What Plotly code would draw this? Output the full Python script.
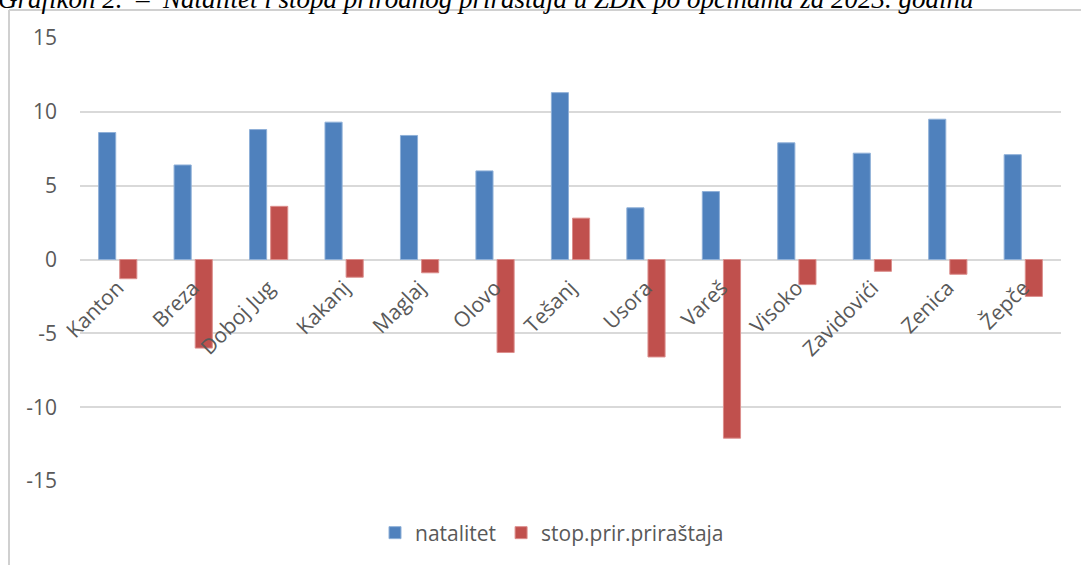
import plotly.graph_objects as go

# općine ZDK, 2023.
opcine = ["Kanton", "Breza", "Doboj Jug", "Kakanj", "Maglaj", "Olovo", "Tešanj",
          "Usora", "Vareš", "Visoko", "Zavidovići", "Zenica", "Žepče"]
natalitet = [8.6, 6.4, 8.8, 9.3, 8.4, 6.0, 11.3, 3.5, 4.6, 7.9, 7.2, 9.5, 7.1]
prirastaj = [-1.3, -6.0, 3.6, -1.2, -0.9, -6.3, 2.8, -6.6, -12.1, -1.7, -0.8, -1.0, -2.5]
y_ticks = [-15, -10, -5, 0, 5, 10, 15]
y_labels = ["-15", "-10", "-5", "0", "5", "10", "15"]

nb = "\u00a0"
naslov = ("Grafikon 2." + nb * 2 + "–" + nb * 2 +
          "Natalitet i stopa prirodnog priraštaja u ZDK po općinama za 2023. godinu")

W, H = 1081, 565
L, R, T, B = 80, 1061, 38, 481


def px(x):
    return (x - L) / (R - L)


def py(y):
    return (B - y) / (B - T)


txt = dict(family="Open Sans, sans-serif", size=21, color="#595959")

fig = go.Figure()
fig.add_trace(go.Bar(x=opcine, y=natalitet, name="natalitet",
                     marker=dict(color="#4f81bd", line=dict(color="#8fb0d8", width=1))))
fig.add_trace(go.Bar(x=opcine, y=prirastaj, name="stop.prir.priraštaja",
                     marker=dict(color="#c0504d", line=dict(color="#dc8f8d", width=1))))

frame = dict(color="#d0d0d0", width=2)

fig.update_layout(
    width=W, height=H,
    margin=dict(l=L, r=W - R, t=T, b=H - B),
    paper_bgcolor="white", plot_bgcolor="white",
    barmode="group", bargap=0.44, bargroupgap=0.19,
    font=txt,
    showlegend=True,
    legend=dict(orientation="h", x=px(552), xanchor="center", y=py(533), yanchor="middle",
                font=txt, itemwidth=30, traceorder="normal"),
    xaxis=dict(anchor="free", position=0.5, showline=False, showgrid=False,
               ticks="", tickangle=-45, tickfont=txt, ticklabelstandoff=11),
    yaxis=dict(range=[-15, 15], tickvals=y_ticks, ticktext=y_labels, showgrid=True,
               gridcolor="#d9d9d9", gridwidth=1.5, zeroline=True,
               zerolinecolor="#d9d9d9", zerolinewidth=1.5, showline=False,
               ticks="", tickfont=txt, ticklabelstandoff=22),
    # outer chart frame: only its left and top edges are inside the picture
    shapes=[dict(type="line", xref="paper", yref="paper",
                 x0=px(9), x1=px(1081), y0=py(10), y1=py(10), line=frame),
            dict(type="line", xref="paper", yref="paper",
                 x0=px(9), x1=px(9), y0=py(10), y1=py(565), line=frame)],
    annotations=[dict(text="<i>" + naslov + "</i>", xref="paper", yref="paper",
                      x=px(-4), y=py(16), xanchor="left", yanchor="bottom",
                      showarrow=False,
                      font=dict(family="Liberation Serif, Times New Roman, serif",
                                size=27, color="black"))],
)

# page body has an 8px default margin; drop it so the figure sits at 0,0
fig.write_html("out.html", config={"displayModeBar": False},
               post_script="document.body.style.margin='0';")
